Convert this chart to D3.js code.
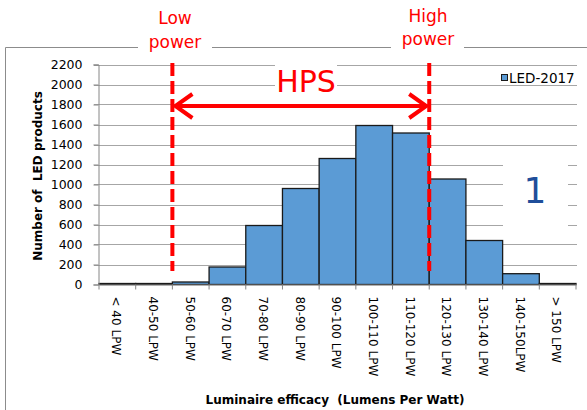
<!DOCTYPE html>
<html>
<head>
<meta charset="utf-8">
<script src="https://cdn.jsdelivr.net/npm/d3@7"></script>
<style>
  body { margin: 0; background: #fff; }
  text { font-family: "DejaVu Sans", Verdana, sans-serif; }
</style>
</head>
<body>
<svg width="587" height="410"></svg>
<script>
// histogram of LED luminaire efficacy
var categories = ["< 40 LPW", "40-50 LPW", "50-60 LPW", "60-70 LPW", "70-80 LPW", "80-90 LPW",
  "90-100 LPW", "100-110 LPW", "110-120 LPW", "120-130 LPW", "130-140 LPW", "140-150LPW", "> 150 LPW"];
var counts = [10, 10, 25, 175, 590, 960, 1260, 1590, 1515, 1055, 440, 108, 10];
var yTicks = [0, 200, 400, 600, 800, 1000, 1200, 1400, 1600, 1800, 2000, 2200];
var seriesName = "LED-2017";

var svg = d3.select("svg");
var plotLeft = 99, plotRight = 576, plotTop = 64.5, plotBottom = 284.5;

var x = d3.scaleBand().domain(categories).range([plotLeft, plotRight]).padding(0);
var y = d3.scaleLinear().domain([0, 2200]).range([plotBottom, plotTop]);

// outer frame (left + top edge, with gaps for the labels)
svg.append("path")
  .attr("d", "M5.5,410 V47.5 H138 M212,47.5 H391 M464,47.5 H587")
  .attr("fill", "none").attr("stroke", "#8c8c8c").attr("stroke-width", 1);

// gridlines
svg.append("g").selectAll("line")
  .data(yTicks.filter(function(d) { return d > 0; }))
  .enter().append("line")
  .attr("x1", plotLeft - 5).attr("x2", plotRight + 1)
  .attr("y1", function(d) { return Math.round(y(d)) + 0.5; })
  .attr("y2", function(d) { return Math.round(y(d)) + 0.5; })
  .attr("stroke", "#a6a6a6");

// white boxes behind HPS and the "1"
svg.append("rect").attr("x", 275).attr("y", 58).attr("width", 62).attr("height", 38).attr("fill", "#fff");
svg.append("rect").attr("x", 503).attr("y", 158).attr("width", 65).attr("height", 72).attr("fill", "#fff");

// bars
svg.append("g").selectAll("rect")
  .data(counts)
  .enter().append("rect")
  .attr("x", function(d, i) { return x(categories[i]); })
  .attr("y", function(d) { return y(d); })
  .attr("width", x.bandwidth())
  .attr("height", function(d) { return plotBottom - y(d); })
  .attr("fill", "#5b9bd5")
  .attr("stroke", "#1a1a1a")
  .attr("stroke-width", 1.3);

// y axis
var yAxis = svg.append("g")
  .attr("transform", "translate(" + (plotLeft - 0.5) + ",0)")
  .call(d3.axisLeft(y).tickValues(yTicks).tickFormat(d3.format("d")).tickSize(5).tickPadding(11));
yAxis.selectAll("path, line").attr("stroke", "#868686");
yAxis.selectAll("text").attr("font-size", 12.5).attr("fill", "#000")
  .attr("font-family", "DejaVu Sans");

// x axis
var xAxis = svg.append("g")
  .attr("transform", "translate(0," + plotBottom + ")")
  .call(d3.axisBottom(x).tickSize(5).tickSizeOuter(0));
xAxis.select(".domain").attr("stroke", "#868686");
// ticks at band edges instead of centres
xAxis.selectAll(".tick line")
  .attr("x1", -x.bandwidth() / 2).attr("x2", -x.bandwidth() / 2)
  .attr("stroke", "#868686");
xAxis.append("line")
  .attr("x1", plotRight).attr("x2", plotRight).attr("y1", 0).attr("y2", 5).attr("stroke", "#868686");
xAxis.selectAll(".tick text")
  .attr("font-size", 12).attr("fill", "#000").attr("font-family", "DejaVu Sans")
  .attr("transform", "rotate(90)")
  .attr("x", 12).attr("y", 1).attr("dy", "0.35em")
  .style("text-anchor", "start");

// axis titles
svg.append("text")
  .attr("transform", "translate(42,176) rotate(-90)")
  .attr("text-anchor", "middle").attr("font-size", 12).attr("font-weight", "bold")
  .style("white-space", "pre")
  .text("Number of  LED products");
svg.append("text")
  .attr("x", 335).attr("y", 404)
  .attr("text-anchor", "middle").attr("font-size", 12).attr("font-weight", "bold")
  .style("white-space", "pre")
  .text("Luminaire efficacy  (Lumens Per Watt)");

// legend
svg.append("rect").attr("x", 501.5).attr("y", 74.5).attr("width", 6).attr("height", 6)
  .attr("fill", "#5b9bd5").attr("stroke", "#1a1a1a");
svg.append("text").attr("x", 509).attr("y", 83).attr("font-size", 13.5).attr("fill", "#000")
  .text(seriesName);

// red dashed limits
var xLow = x(categories[2]), xHigh = x(categories[9]);
svg.selectAll(".limit")
  .data([xLow, xHigh])
  .enter().append("line")
  .attr("class", "limit")
  .attr("x1", function(d) { return d; }).attr("x2", function(d) { return d; })
  .attr("y1", 63).attr("y2", 271)
  .attr("stroke", "#ff0000").attr("stroke-width", 4)
  .attr("stroke-dasharray", "13,5");

// double arrow
var ay = 106;
svg.append("path")
  .attr("d", "M" + (xLow + 2) + "," + ay + " H" + (xHigh - 2) +
    " M" + (xLow + 20) + "," + (ay - 12) + " L" + (xLow + 3) + "," + ay + " L" + (xLow + 20) + "," + (ay + 12) +
    " M" + (xHigh - 20) + "," + (ay - 12) + " L" + (xHigh - 3) + "," + ay + " L" + (xHigh - 20) + "," + (ay + 12))
  .attr("fill", "none").attr("stroke", "#ff0000").attr("stroke-width", 4);

svg.append("text").attr("x", 306).attr("y", 92).attr("text-anchor", "middle")
  .attr("font-size", 30).attr("fill", "#ff0000").text("HPS");

// labels above the frame
svg.append("text").attr("x", 175).attr("y", 24).attr("text-anchor", "middle")
  .attr("font-size", 17).attr("fill", "#ff0000").text("Low");
svg.append("text").attr("x", 175).attr("y", 48).attr("text-anchor", "middle")
  .attr("font-size", 17).attr("fill", "#ff0000").text("power");
svg.append("text").attr("x", 428).attr("y", 22).attr("text-anchor", "middle")
  .attr("font-size", 17).attr("fill", "#ff0000").text("High");
svg.append("text").attr("x", 428).attr("y", 45).attr("text-anchor", "middle")
  .attr("font-size", 17).attr("fill", "#ff0000").text("power");

svg.append("text").attr("x", 535).attr("y", 203).attr("text-anchor", "middle")
  .attr("font-size", 36).attr("fill", "#1f4e9a").text("1");
</script>
</body>
</html>
